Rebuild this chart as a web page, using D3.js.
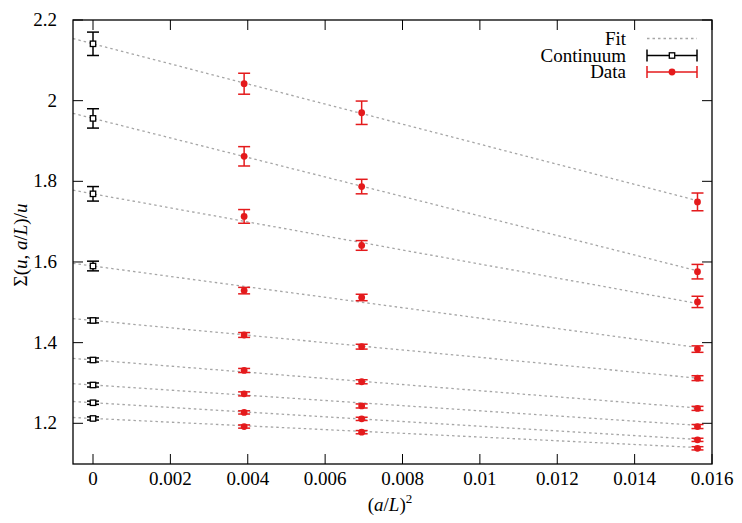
<!DOCTYPE html>
<html>
<head>
<meta charset="utf-8">
<script src="https://cdn.jsdelivr.net/npm/d3@7"></script>
<style>
  html, body { margin: 0; padding: 0; background: #fff; }
  svg { display: block; }
  text { font-family: "Liberation Serif", "DejaVu Serif", serif; fill: #000; }
</style>
</head>
<body>
<script>
// ---- data ----
const xTicks = [0, 0.002, 0.004, 0.006, 0.008, 0.01, 0.012, 0.014, 0.016];
const xTickLabels = ["0", "0.002", "0.004", "0.006", "0.008", "0.01", "0.012", "0.014", "0.016"];
const yTicks = [1.2, 1.4, 1.6, 1.8, 2.0, 2.2];
const yTickLabels = ["1.2", "1.4", "1.6", "1.8", "2", "2.2"];

const continuumX = 0;
const continuumVal = [2.141, 1.956, 1.769, 1.590, 1.455, 1.357, 1.295, 1.251, 1.212];
const continuumErr = [0.029, 0.024, 0.018, 0.012, 0.006, 0.005, 0.005, 0.004, 0.004];

const dataX = [0.00390625, 0.00694444, 0.015625];
const dataVal = [
  [2.042, 1.970, 1.749],
  [1.862, 1.787, 1.576],
  [1.713, 1.641, 1.501],
  [1.529, 1.512, 1.384],
  [1.419, 1.390, 1.312],
  [1.331, 1.303, 1.237],
  [1.273, 1.243, 1.192],
  [1.227, 1.211, 1.159],
  [1.192, 1.178, 1.138]
];
const dataErr = [
  [0.026, 0.029, 0.022],
  [0.024, 0.018, 0.018],
  [0.017, 0.012, 0.014],
  [0.008, 0.008, 0.008],
  [0.006, 0.006, 0.006],
  [0.005, 0.005, 0.005],
  [0.005, 0.005, 0.005],
  [0.004, 0.004, 0.004],
  [0.004, 0.004, 0.004]
];
// fit: value at x=0 (continuum) and value at the last data x
const fitEnd = [1.752, 1.578, 1.497, 1.388, 1.312, 1.238, 1.195, 1.160, 1.140];

const legendLabels = ["Fit", "Continuum", "Data"];

// ---- layout ----
const W = 742, H = 523;
const pL = 73, pR = 712, pT = 20, pB = 464;
const RED = "#e41a1c";
const FIT = "#a6a6a6";
const FS = 19;

const x = d3.scaleLinear().domain([-0.000517, 0.016]).range([pL, pR]);
const y = d3.scaleLinear().domain([1.0991, 2.2]).range([pB, pT]);

const svg = d3.select("body").append("svg").attr("width", W).attr("height", H);

// ticks (inward, mirrored)
const tickLen = 10;
const axisG = svg.append("g").attr("stroke", "#000").attr("stroke-width", 1);
xTicks.forEach(t => {
  axisG.append("line").attr("x1", x(t)).attr("x2", x(t)).attr("y1", pB).attr("y2", pB - tickLen);
  axisG.append("line").attr("x1", x(t)).attr("x2", x(t)).attr("y1", pT).attr("y2", pT + tickLen);
});
yTicks.forEach(t => {
  axisG.append("line").attr("x1", pL).attr("x2", pL + tickLen).attr("y1", y(t)).attr("y2", y(t));
  axisG.append("line").attr("x1", pR).attr("x2", pR - tickLen).attr("y1", y(t)).attr("y2", y(t));
});

// tick labels
svg.append("g").selectAll("text").data(xTicks).join("text")
  .attr("x", d => x(d)).attr("y", 485)
  .attr("text-anchor", "middle").attr("font-size", FS)
  .text((d, i) => xTickLabels[i]);
svg.append("g").selectAll("text").data(yTicks).join("text")
  .attr("x", 57).attr("y", d => y(d) + 6)
  .attr("text-anchor", "end").attr("font-size", FS)
  .text((d, i) => yTickLabels[i]);

// fit lines
const fitG = svg.append("g").attr("stroke", FIT).attr("stroke-width", 1.3)
  .attr("stroke-dasharray", "2.5,3").attr("fill", "none");
continuumVal.forEach((c, i) => {
  const xEnd = dataX[dataX.length - 1];
  const slope = (fitEnd[i] - c) / xEnd;
  const x0 = x.domain()[0];
  fitG.append("line")
    .attr("x1", x(x0)).attr("y1", y(c + slope * x0))
    .attr("x2", x(xEnd)).attr("y2", y(fitEnd[i]));
});

const cap = 6;
function errBar(g, cx, v, e, color) {
  const gg = g.append("g").attr("stroke", color).attr("stroke-width", 1.5);
  gg.append("line").attr("x1", x(cx)).attr("x2", x(cx)).attr("y1", y(v - e)).attr("y2", y(v + e));
  gg.append("line").attr("x1", x(cx) - cap).attr("x2", x(cx) + cap).attr("y1", y(v - e)).attr("y2", y(v - e));
  gg.append("line").attr("x1", x(cx) - cap).attr("x2", x(cx) + cap).attr("y1", y(v + e)).attr("y2", y(v + e));
}

// continuum
const contG = svg.append("g");
continuumVal.forEach((v, i) => {
  errBar(contG, continuumX, v, continuumErr[i], "#000");
  contG.append("rect").attr("x", x(continuumX) - 2.7).attr("y", y(v) - 2.7)
    .attr("width", 5.4).attr("height", 5.4)
    .attr("fill", "#fff").attr("stroke", "#000").attr("stroke-width", 1.3);
});

// data
const dataG = svg.append("g");
dataVal.forEach((row, i) => {
  row.forEach((v, j) => {
    errBar(dataG, dataX[j], v, dataErr[i][j], RED);
    dataG.append("circle").attr("cx", x(dataX[j])).attr("cy", y(v)).attr("r", 3.4).attr("fill", RED);
  });
});

// frame
svg.append("rect").attr("x", pL).attr("y", pT).attr("width", pR - pL).attr("height", pB - pT)
  .attr("fill", "none").attr("stroke", "#000").attr("stroke-width", 1.3);

// legend
const lg = svg.append("g");
const lx1 = 647, lx2 = 697, ltx = 626;
const ly = [38.5, 55.5, 72];
lg.selectAll("text").data(legendLabels).join("text")
  .attr("x", ltx).attr("y", (d, i) => ly[i] + 6)
  .attr("text-anchor", "end").attr("font-size", FS).text(d => d);
lg.append("line").attr("x1", lx1).attr("x2", lx2).attr("y1", ly[0]).attr("y2", ly[0])
  .attr("stroke", FIT).attr("stroke-width", 1.3).attr("stroke-dasharray", "2.5,3");
[[1, "#000"], [2, RED]].forEach(([k, c]) => {
  const g = lg.append("g").attr("stroke", c).attr("stroke-width", 1.5);
  g.append("line").attr("x1", lx1).attr("x2", lx2).attr("y1", ly[k]).attr("y2", ly[k]);
  g.append("line").attr("x1", lx1).attr("x2", lx1).attr("y1", ly[k] - 6).attr("y2", ly[k] + 6);
  g.append("line").attr("x1", lx2).attr("x2", lx2).attr("y1", ly[k] - 6).attr("y2", ly[k] + 6);
});
const mx = (lx1 + lx2) / 2;
lg.append("rect").attr("x", mx - 2.7).attr("y", ly[1] - 2.7).attr("width", 5.4).attr("height", 5.4)
  .attr("fill", "#fff").attr("stroke", "#000").attr("stroke-width", 1.3);
lg.append("circle").attr("cx", mx).attr("cy", ly[2]).attr("r", 3.4).attr("fill", RED);

// axis labels
const xl = svg.append("text").attr("x", 390).attr("y", 511)
  .attr("text-anchor", "middle").attr("font-size", FS);
xl.append("tspan").text("(");
xl.append("tspan").attr("font-style", "italic").text("a");
xl.append("tspan").text("/");
xl.append("tspan").attr("font-style", "italic").text("L");
xl.append("tspan").text(")");
xl.append("tspan").attr("font-size", 13).attr("dy", -8).text("2");

const yl = svg.append("text").attr("transform", `translate(27,245) rotate(-90)`)
  .attr("text-anchor", "middle").attr("font-size", FS);
yl.append("tspan").text("Σ(");
yl.append("tspan").attr("font-style", "italic").text("u");
yl.append("tspan").text(", ");
yl.append("tspan").attr("font-style", "italic").text("a");
yl.append("tspan").text("/");
yl.append("tspan").attr("font-style", "italic").text("L");
yl.append("tspan").text(")/");
yl.append("tspan").attr("font-style", "italic").text("u");
</script>
</body>
</html>
